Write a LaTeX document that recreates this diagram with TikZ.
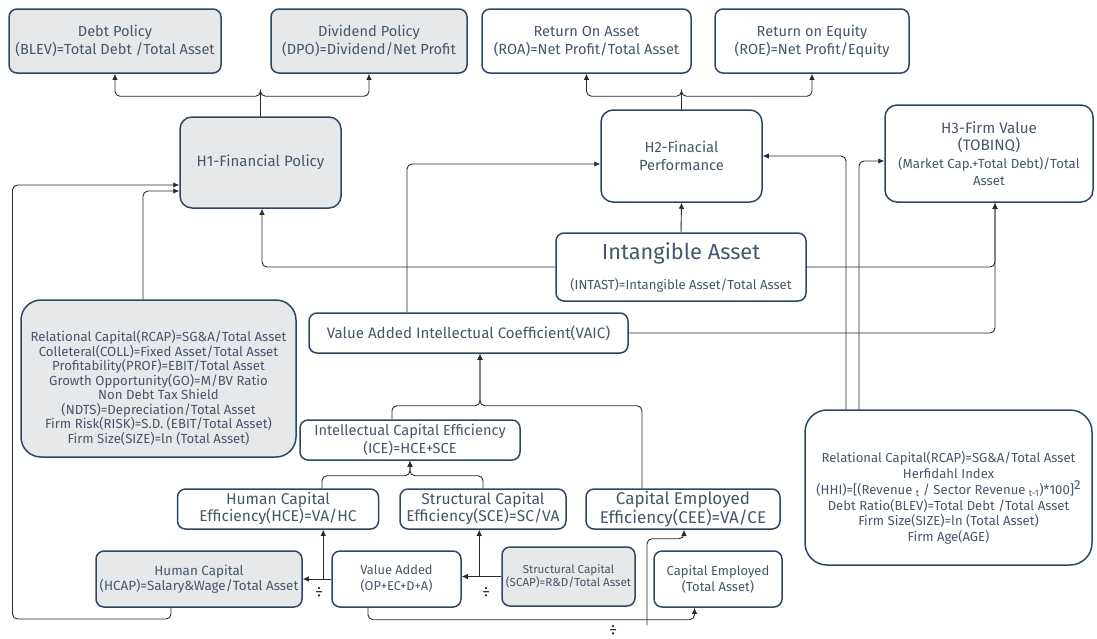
\documentclass[tikz,border=0pt]{standalone}
\usepackage{fontspec}
\setmainfont{Fira Sans}
\usetikzlibrary{arrows.meta,calc}
\definecolor{bline}{HTML}{2D4764}
\definecolor{btxt}{HTML}{46566B}
\definecolor{bfill}{HTML}{E7E8EA}
\definecolor{cline}{HTML}{2A2A2A}
\newcommand{\fsz}[2]{\fontsize{#1}{#2}\selectfont}
\begin{document}
\begin{tikzpicture}[x=1pt,y=-1pt,
  box/.style={draw=bline, line width=1.5pt, rounded corners=8pt, fill=white, text=btxt, align=center, inner sep=0pt},
  gbox/.style={box, fill=bfill},
  conn/.style={draw=cline, line width=0.9pt, rounded corners=5pt},
  arr/.style={conn, -{Latex[length=6pt,width=5.5pt]}},
  dv/.style={text=cline, inner sep=0pt, font=\fsz{16}{16}},
  txt/.style={text=btxt, align=center, inner sep=0pt}
]
\fill[white] (0,0) rectangle (1097,638);
\useasboundingbox (0,0) rectangle (1097,638);

% top row
\node[gbox, minimum width=212pt, minimum height=64pt, font=\fsz{14.6}{18}] (debt) at (115,41) {Debt Policy\\(BLEV)=Total Debt /Total Asset};
\node[gbox, minimum width=196pt, minimum height=64pt, font=\fsz{14.6}{18}] (div) at (369,41) {Dividend Policy\\(DPO)=Dividend/Net Profit};
\node[box, minimum width=209pt, minimum height=64pt, font=\fsz{14.6}{18}] (roa) at (586.5,41) {Return On Asset\\(ROA)=Net Profit/Total Asset};
\node[box, minimum width=194pt, minimum height=64pt, font=\fsz{14.6}{18}] (roe) at (812,41) {Return on Equity\\(ROE)=Net Profit/Equity};

% hypotheses
\node[gbox, rounded corners=12pt, minimum width=161pt, minimum height=91pt, font=\fsz{15}{18}] (h1) at (260.5,162.5) {H1-Financial Policy};
\node[box, rounded corners=12pt, minimum width=161pt, minimum height=92pt, font=\fsz{14.7}{18}] (h2) at (681.5,156) {H2-Finacial\\Performance};
\node[box, rounded corners=12pt, minimum width=208pt, minimum height=97pt, font=\fsz{15.2}{17.5}] (h3) at (989,153.5) {H3-Firm Value\\(TOBINQ)\\{\fsz{13.2}{17.5}(Market Cap.+Total Debt)/Total}\\{\fsz{13.2}{17.5}Asset}};

% middle
\node[box, minimum width=250pt, minimum height=68pt, font=\fsz{13.1}{30}] (ia) at (681,267) {{\fsz{21.8}{30}Intangible Asset}\\(INTAST)=Intangible Asset/Total Asset};
\node[box, minimum width=319pt, minimum height=40pt, font=\fsz{15.1}{18}] (vaic) at (468.5,333) {Value Added Intellectual Coefficient(VAIC)};
\node[box, minimum width=220pt, minimum height=40pt, font=\fsz{14.6}{18}] (ice) at (410,440) {Intellectual Capital Efficiency\\(ICE)=HCE+SCE};
\node[box, minimum width=201pt, minimum height=40pt, font=\fsz{15.6}{17}] (hce) at (278,509) {Human Capital\\Efficiency(HCE)=VA/HC};
\node[box, minimum width=166pt, minimum height=40pt, font=\fsz{15.6}{17}] (sce) at (483,509) {Structural Capital\\Efficiency(SCE)=SC/VA};
\node[box, minimum width=194pt, minimum height=40pt, font=\fsz{17}{17}] (cee) at (683,509) {Capital Employed\\Efficiency(CEE)=VA/CE};

% bottom row
\node[gbox, minimum width=206pt, minimum height=56pt, font=\fsz{13.4}{15}] (hc) at (199,579) {Human Capital\\(HCAP)=Salary\&Wage/Total Asset};
\node[box, minimum width=129pt, minimum height=56pt, font=\fsz{12.8}{16}] (va) at (396.5,579) {Value Added\\(OP+EC+D+A)};
\node[gbox, minimum width=133pt, minimum height=59pt, font=\fsz{11.6}{12.5}] (scap) at (568.5,576.5) {Structural Capital\\(SCAP)=R\&D/Total Asset};
\node[box, minimum width=128pt, minimum height=56pt, font=\fsz{13}{16}] (ce) at (718,579) {Capital Employed\\(Total Asset)};

% control variable boxes
\node[gbox, rounded corners=20pt, minimum width=275pt, minimum height=157pt] (lbox) at (158.5,378.5) {};
\node[txt, font=\fsz{13.2}{14.5}] (ltxt) at (158.5,388) {Relational Capital(RCAP)=SG\&A/Total Asset\\Colleteral(COLL)=Fixed Asset/Total Asset\\Profitability(PROF)=EBIT/Total Asset\\Growth Opportunity(GO)=M/BV Ratio\\Non Debt Tax Shield\\(NDTS)=Depreciation/Total Asset\\Firm Risk(RISK)=S.D. (EBIT/Total Asset)\\Firm Size(SIZE)=ln (Total Asset)};
\node[box, rounded corners=22pt, minimum width=287pt, minimum height=155pt] (rbox) at (948.5,487.5) {};
\node[txt, font=\fsz{13.1}{15.8}] (rtxt) at (948.5,498) {Relational Capital(RCAP)=SG\&A/Total Asset\\Herfidahl Index\\(HHI)=[(Revenue \textsubscript{t} / Sector Revenue \textsubscript{t-1})*100]\raisebox{4.5pt}{2}\\Debt Ratio(BLEV)=Total Debt /Total Asset\\Firm Size(SIZE)=ln (Total Asset)\\Firm Age(AGE)};

% connectors: top branches
\draw[arr] (h1.north) |- ($(h1.north)+(0,-20)$) -| (debt.south);
\draw[arr] (h1.north) |- ($(h1.north)+(0,-20)$) -| (div.south);
\draw[arr] (h2.north) |- ($(h2.north)+(0,-13)$) -| (roa.south);
\draw[arr] (h2.north) |- ($(h2.north)+(0,-13)$) -| (roe.south);

% intangible asset
\draw[arr] (ia.north) -- (h2.south);
\draw[arr] (ia.west) -| ($(h1.south)+(1.5,0)$);
\draw[arr] (ia.east) -| ($(h3.south)+(6,0)$);

% VAIC
\draw[arr] ($(vaic.north)+(-61.5,0)$) |- ($(h2.west)+(0,8)$);
\draw[arr] (vaic.east) -| ($(h3.south)+(6,0)$);

% left control box and human capital to H1
\draw[arr] ($(lbox.north)+(-15.5,0)$) |- ($(h1.west)+(0,28.5)$);
\coordinate (lowl) at (12.5,619);
\draw[arr] ($(hc.south)+(-28,0)$) |- (lowl) |- ($(h1.west)+(0,22.5)$);

% right control box
\draw[arr] ($(rbox.north)+(-102.5,0)$) |- (h2.east);
\draw[arr] ($(rbox.north)+(-89.5,0)$) |- ($(h3.west)+(0,7.5)$);

% ICE / CEE to VAIC
\draw[arr] ($(ice.north)+(-18,0)$) |- ($(vaic.south)+(11.5,52)$) -- ($(vaic.south)+(11.5,0)$);
\draw[arr] ($(cee.north)+(-41,0)$) |- ($(vaic.south)+(11.5,52)$) -- ($(vaic.south)+(11.5,0)$);

% HCE / SCE to ICE
\draw[arr] ($(hce.north)+(44,0)$) |- ($(ice.south)+(0,15)$) -- (ice.south);
\draw[arr] (sce.north) |- ($(ice.south)+(0,15)$) -- (ice.south);

% bottom row
\draw[arr] (va.west) -- (hc.east);
\coordinate (vahc) at ($(va.west)+(-8,0)$);
\draw[arr] (vahc) -- (vahc |- hce.south);
\draw[arr] (scap.west) -- (scap.west -| va.east);
\coordinate (vasc) at ($(scap.west)+(-22,0)$);
\draw[arr] (vasc) -- (vasc |- sce.south);
\draw[arr] ($(va.south)+(-28.5,0)$) |- ($(ce.south)+(-23.5,12)$) -- ($(ce.south)+(-23.5,0)$);
\coordinate (free) at (647,625);
\draw[arr] (free) |- ($(cee.south)+(1,9)$) -- ($(cee.south)+(1,0)$);

% division signs
\node[dv] (d1) at (319,592) {÷};
\node[dv] (d2) at (486,592) {÷};
\node[dv] (d3) at (613,630) {÷};
\end{tikzpicture}
\end{document}
